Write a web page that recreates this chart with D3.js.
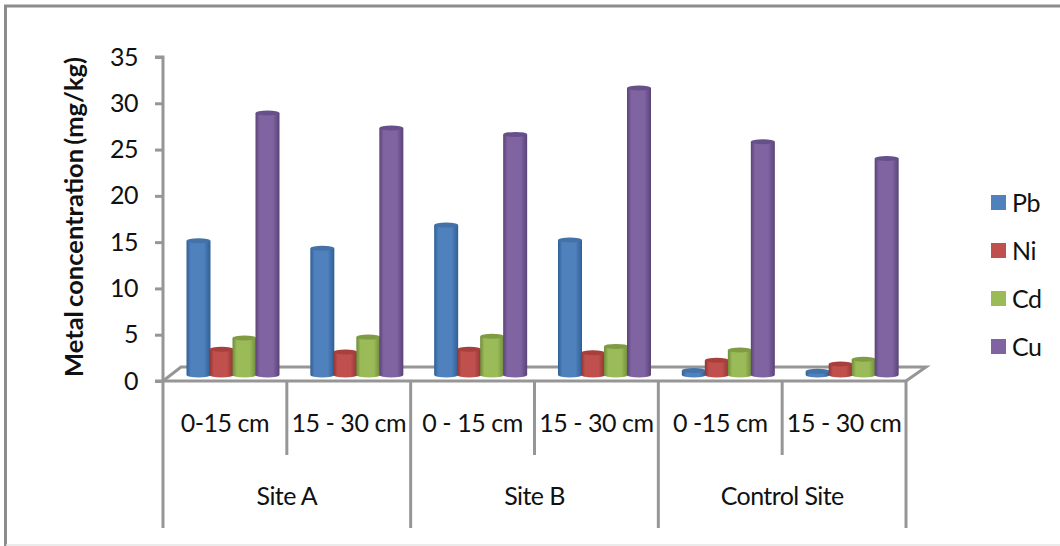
<!DOCTYPE html>
<html><head><meta charset="utf-8">
<script src="https://cdn.jsdelivr.net/npm/d3@7"></script>
<style>html,body{margin:0;padding:0;background:#fff}svg{display:block}text{font-family:Lato,"Open Sans",sans-serif;fill:#111}</style>
</head><body><div id="c"></div>
<script>
const subCategories=["0-15 cm","15 - 30 cm","0 - 15 cm","15 - 30 cm","0 -15 cm","15 - 30 cm"];
const sites=["Site A","Site B","Control Site"];
const seriesNames=["Pb","Ni","Cd","Cu"];
const Pb=[14.6,13.8,16.3,14.7,0.6,0.5];
const Ni=[2.9,2.6,2.9,2.5,1.7,1.3];
const Cd=[4.1,4.2,4.3,3.2,2.8,1.8];
const Cu=[28.4,26.8,26.1,31.1,25.3,23.5];
const yTicks=[0,5,10,15,20,25,30,35];
const seriesValues=[Pb,Ni,Cd,Cu];
const colors=["#4f81bd","#c0504d","#9bbb59","#8064a2"];
const dark=["#2f5f96","#8f3532","#6f8c38","#5a4378"];
const topc=["#4472a8","#a83f3c","#7f9c45","#67508a"];

const W=1060,H=546,gray="#969696";
const x0=163,x1=906,yB=381,yT=57,dx=18,dy=-14;
const svg=d3.select("#c").append("svg").attr("width",W).attr("height",H);
const defs=svg.append("defs");
colors.forEach((c,i)=>{
  const g=defs.append("linearGradient").attr("id","g"+i);
  g.append("stop").attr("offset","0").attr("stop-color",dark[i]);
  g.append("stop").attr("offset",".18").attr("stop-color",c);
  g.append("stop").attr("offset",".72").attr("stop-color",c);
  g.append("stop").attr("offset","1").attr("stop-color",dark[i]);
});
// outer frame
svg.append("path").attr("d","M1060 6H5.5V546").attr("fill","none").attr("stroke","#8c8c8c").attr("stroke-width",3);
svg.append("path").attr("d","M6 545H1060").attr("stroke","#e4e4e4").attr("stroke-width",1.5);

const y=d3.scaleLinear().domain([0,35]).range([yB,yT]);
const band=d3.scaleBand().domain(d3.range(subCategories.length)).range([x0,x1]);
const inner=d3.scaleBand().domain(seriesNames).range([24,116]);
const siteBand=d3.scaleBand().domain(sites).range([x0,x1]);

// floor
svg.append("path").attr("d",`M${x0} ${yB}L${x0+dx} ${yB+dy}H${x1+dx+2}L${x1} ${yB}`)
  .attr("fill","#fff").attr("stroke",gray).attr("stroke-width",3);
// value axis
const ax=svg.append("g").attr("transform",`translate(${x0},0)`)
  .call(d3.axisLeft(y).tickValues(yTicks).tickSize(8).tickPadding(17));
ax.selectAll("path,line").attr("stroke",gray).attr("stroke-width",3);
ax.select("path").attr("d",`M-8 ${yT}H0V${yB}`);
ax.selectAll("text").attr("font-size",25).attr("letter-spacing",-0.5).attr("fill","#111");
// category axis
svg.append("line").attr("x1",x0-8).attr("x2",x1).attr("y1",yB).attr("y2",yB).attr("stroke",gray).attr("stroke-width",3);
const div=svg.append("g").attr("stroke",gray).attr("stroke-width",3);
d3.range(1,subCategories.length).filter(i=>i%2).forEach(i=>
  div.append("line").attr("x1",band(i)).attr("x2",band(i)).attr("y1",yB).attr("y2",455));
d3.range(0,subCategories.length+1,2).forEach(i=>{
  const xx=i<subCategories.length?band(i):x1;
  div.append("line").attr("x1",xx).attr("x2",xx).attr("y1",yB).attr("y2",528);
});
svg.append("g").selectAll("text").data(subCategories).join("text")
  .attr("x",(d,i)=>band(i)+band.bandwidth()/2).attr("y",432).attr("text-anchor","middle")
  .attr("font-size",25).attr("letter-spacing",-0.45).text(d=>d);
svg.append("g").selectAll("text").data(sites).join("text")
  .attr("x",d=>siteBand(d)+siteBand.bandwidth()/2).attr("y",505).attr("text-anchor","middle")
  .attr("font-size",25).attr("letter-spacing",-0.6).text(d=>d);
// cylinders
const lift=5;
subCategories.forEach((_,i)=>{
  seriesNames.forEach((s,k)=>{
    const v=seriesValues[k][i],bx=band(i)+inner(s),w=inner.bandwidth(),
      cx=bx+w/2,yb=yB-lift-1,yt=y(v)-lift,rx=w/2+.5,ry=2.5;
    const g=svg.append("g");
    g.append("path").attr("d",`M${cx-rx} ${yt}V${yb}A${rx} ${ry} 0 0 0 ${cx+rx} ${yb}V${yt}Z`).attr("fill",`url(#g${k})`);
    g.append("ellipse").attr("cx",cx).attr("cy",yt).attr("rx",rx).attr("ry",ry).attr("fill",topc[k]);
  });
});
// axis title
svg.append("text").attr("transform","translate(83,217) rotate(-90)").attr("text-anchor","middle")
  .attr("font-size",25.5).attr("font-weight",700).attr("letter-spacing",0).attr("word-spacing",-2).text("Metal concentration (mg/kg)");
// legend
const ly=d3.scalePoint().domain(seriesNames).range([203,347]);
const lg=svg.append("g").selectAll("g").data(seriesNames).join("g").attr("transform",d=>`translate(991,${ly(d)})`);
lg.append("rect").attr("x",0).attr("y",-8).attr("width",15).attr("height",15).attr("fill",(d,i)=>colors[i]);
lg.append("text").attr("x",21).attr("y",9).attr("font-size",25).attr("letter-spacing",-0.5).text(d=>d);
</script></body></html>
